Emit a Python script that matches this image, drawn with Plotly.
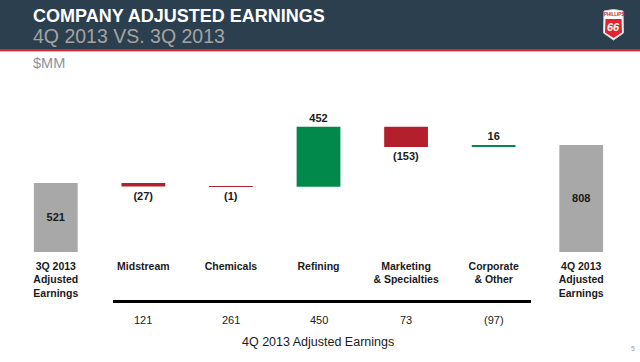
import plotly.graph_objects as go

W, H = 640, 362

categories = ["3Q 2013<br>Adjusted<br>Earnings", "Midstream", "Chemicals", "Refining",
              "Marketing<br>& Specialties", "Corporate<br>& Other", "4Q 2013<br>Adjusted<br>Earnings"]
changes = [521, -27, -1, 452, -153, 16, 808]
measures = ["absolute", "relative", "relative", "relative", "relative", "relative", "total"]
segment_categories = categories[1:6]
segment_earnings = [121, 261, 450, 73, -97]

GREEN = "#00894a"
RED = "#b41f2e"
GRAY = "#a8a8a8"
HEADER = "#2c3f4e"
FONT = "Liberation Sans, Arial, sans-serif"
DARK = "#1a1a1a"


def fmt(v):
    return f"({abs(v)})" if v < 0 else f"{v}"


labels = [f"<b>{fmt(v)}</b>" for v in changes]
positions = ["inside" if m != "relative" else "outside" for m in measures]

fig = go.Figure()
fig.add_trace(go.Waterfall(
    x=categories, y=changes, measure=measures,
    text=labels, textposition=positions, texttemplate="%{text}",
    insidetextanchor="middle",
    textfont=dict(family=FONT, size=11, color=DARK),
    insidetextfont=dict(family=FONT, size=11, color=DARK),
    outsidetextfont=dict(family=FONT, size=11, color=DARK),
    increasing=dict(marker=dict(color=GREEN)),
    decreasing=dict(marker=dict(color=RED)),
    totals=dict(marker=dict(color=GRAY)),
    connector=dict(visible=False),
    width=0.5, cliponaxis=False, hoverinfo="skip",
))


def px_x(p):
    return p / W


def px_y(p):
    return 1 - p / H


fig.update_layout(
    width=W, height=H, margin=dict(l=0, r=0, t=0, b=0),
    paper_bgcolor="white", plot_bgcolor="white", showlegend=False,
    font=dict(family=FONT, color=DARK),
    xaxis=dict(domain=[px_x(12), px_x(625)], showgrid=False, zeroline=False, showline=False,
               tickfont=dict(family=FONT, size=10.5, color=DARK), ticks="",
               ticklabelstandoff=6,
               tickprefix="<b>", ticksuffix="</b>", range=[-0.5, 6.5]),
    yaxis=dict(domain=[px_y(252), px_y(100)], range=[0, 1147], visible=False),
)


def text(x, y, s, size, color, xanchor="center", bold=False):
    fig.add_annotation(x=px_x(x), y=px_y(y), xref="paper", yref="paper",
                       xanchor=xanchor, yanchor="middle", showarrow=False,
                       text=f"<b>{s}</b>" if bold else s,
                       font=dict(family=FONT, size=size, color=color))


# header band
fig.add_shape(type="rect", xref="paper", yref="paper", x0=0, x1=1, y0=px_y(49), y1=1,
              fillcolor=HEADER, line_width=0, layer="below")
fig.add_shape(type="rect", xref="paper", yref="paper", x0=0, x1=1, y0=px_y(51), y1=px_y(49),
              fillcolor="#d42a35", line_width=0)
fig.add_shape(type="rect", xref="paper", yref="paper", x0=0, x1=1, y0=px_y(52), y1=px_y(51),
              fillcolor="#eeb0b4", line_width=0)

text(31, 16.5, "COMPANY ADJUSTED EARNINGS", 18, "white", "left", True)
text(31, 36, "4Q 2013 VS. 3Q 2013", 19.5, "#a3a3a3", "left")
text(31, 63, "$MM", 14.5, "#8c929b", "left")

# logo (shield)
fig.add_shape(type="path", xref="paper", yref="paper",
              path=f"M {px_x(604)},{px_y(11)} Q {px_x(613.5)},{px_y(8)} {px_x(623)},{px_y(11)} "
                   f"L {px_x(623.5)},{px_y(33)} L {px_x(613.5)},{px_y(40)} L {px_x(603.5)},{px_y(33)} Z",
              fillcolor="white", line=dict(color="#d0d0d0", width=1))
fig.add_shape(type="path", xref="paper", yref="paper",
              path=f"M {px_x(605.5)},{px_y(19)} L {px_x(621.5)},{px_y(19)} L {px_x(622)},{px_y(32.5)} "
                   f"L {px_x(613.5)},{px_y(38)} L {px_x(605)},{px_y(32.5)} Z",
              fillcolor="#e3232f", line_width=0)
text(613.5, 14.5, "PHILLIPS", 4.5, "#c0202b", "center", True)
text(613.5, 27, "<i>66</i>", 11, "white", "center", True)

# segment bar & 4Q segment earnings
fig.add_shape(type="line", xref="paper", yref="paper", x0=px_x(113), x1=px_x(531),
              y0=px_y(301.5), y1=px_y(301.5), line=dict(color="black", width=3))
for cat, v in zip(segment_categories, segment_earnings):
    fig.add_annotation(x=cat, xref="x", y=px_y(320), yref="paper", text=fmt(v), showarrow=False,
                       xanchor="center", yanchor="middle",
                       font=dict(family=FONT, size=11, color=DARK))
text(318, 342, "4Q 2013 Adjusted Earnings", 12.5, DARK)
text(633, 348, "5", 7, "#999999")

fig.write_html("out.html", config={"displayModeBar": False},
               post_script="document.body.style.margin='0';")
